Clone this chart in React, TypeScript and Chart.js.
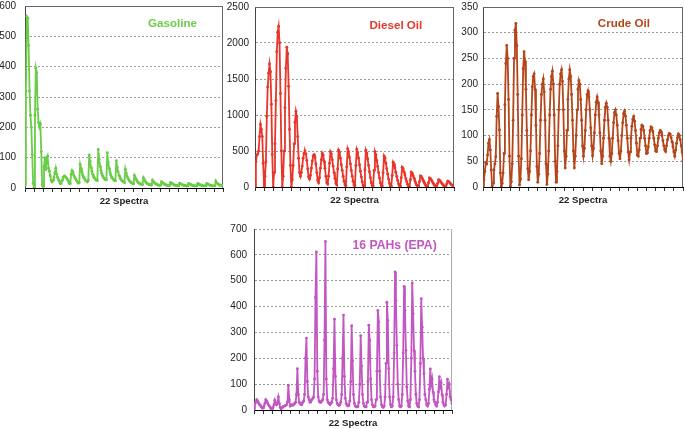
import { useEffect, useRef } from "react";
import { Chart, registerables } from "chart.js";

Chart.register(...registerables);

const SPECTRA_COUNT = 22;
const X_AXIS_TITLE = "22 Spectra";

// 22 spectra x 10 points each
const gasolineValues = [
  10, 320, 565, 560, 470, 320, 240, 200, 110, 15,
  0, 240, 395, 380, 260, 215, 200, 210, 120, 10,
  5, 70, 100, 60, 95, 105, 65, 55, 40, 25,
  20, 25, 35, 50, 65, 45, 35, 28, 22, 15,
  15, 25, 35, 38, 40, 36, 32, 28, 22, 15,
  15, 45, 58, 52, 42, 35, 30, 25, 20, 16,
  18, 78, 65, 52, 42, 35, 30, 25, 22, 20,
  25, 109, 88, 68, 55, 45, 38, 32, 28, 25,
  25, 127, 95, 72, 58, 48, 40, 34, 30, 27,
  27, 116, 85, 65, 52, 43, 36, 31, 27, 24,
  24, 90, 68, 53, 42, 35, 29, 25, 22, 20,
  18, 62, 48, 38, 31, 26, 22, 19, 17, 15,
  14, 41, 34, 28, 23, 19, 16, 14, 13, 12,
  11, 34, 27, 22, 18, 15, 13, 12, 11, 10,
  10, 26, 21, 18, 15, 13, 11, 10, 9, 9,
  9, 21, 18, 15, 13, 11, 10, 9, 8, 8,
  8, 18, 16, 14, 12, 10, 9, 8, 8, 7,
  7, 16, 14, 12, 11, 9, 8, 8, 7, 7,
  7, 15, 13, 12, 10, 9, 8, 7, 7, 7,
  7, 15, 13, 11, 10, 9, 8, 7, 7, 7,
  7, 15, 13, 11, 10, 9, 8, 7, 7, 7,
  7, 23, 17, 14, 12, 10, 9, 9, 8, 8,
];

const dieselValues = [
  0, 350, 440, 460, 500, 700, 870, 800, 700, 330,
  0, 150, 350, 980, 1390, 1580, 1710, 1600, 1150, 450,
  0, 200, 600, 1200, 1880, 2150, 2230, 2000, 1300, 500,
  0, 150, 500, 1100, 1650, 1940, 1850, 1400, 800, 300,
  0, 100, 300, 600, 900, 1050, 980, 700, 400, 200,
  150, 200, 290, 400, 470, 500, 460, 370, 250, 140,
  110, 160, 260, 360, 430, 450, 410, 320, 200, 90,
  60, 130, 260, 380, 470, 440, 360, 260, 150, 60,
  40, 150, 330, 490, 460, 380, 290, 200, 120, 50,
  30, 250, 510, 480, 400, 310, 230, 150, 80, 30,
  20, 280, 530, 490, 410, 320, 230, 150, 80, 25,
  20, 300, 520, 480, 400, 310, 220, 140, 70, 20,
  15, 240, 510, 470, 390, 300, 210, 130, 60, 20,
  15, 230, 490, 450, 370, 285, 200, 125, 55, 18,
  14, 200, 430, 400, 330, 255, 180, 110, 50, 15,
  12, 160, 345, 320, 265, 205, 145, 90, 42, 12,
  10, 130, 275, 255, 210, 165, 115, 72, 34, 10,
  9, 100, 205, 190, 158, 124, 88, 55, 26, 9,
  8, 75, 155, 145, 120, 94, 66, 42, 20, 8,
  7, 60, 125, 116, 97, 76, 54, 34, 16, 7,
  6, 48, 100, 93, 78, 61, 43, 27, 13, 6,
  5, 40, 82, 76, 64, 50, 36, 23, 11, 5,
];

const crudeValues = [
  0, 14, 30, 47, 45, 62, 85, 92, 72, 33,
  1, 7, 33, 45, 59, 137, 182, 156, 111, 27,
  1, 7, 27, 65, 160, 240, 275, 250, 170, 60,
  1, 10, 45, 130, 250, 305, 318, 275, 180, 60,
  4, 15, 55, 140, 230, 263, 245, 190, 110, 35,
  14, 30, 70, 140, 195, 215, 220, 190, 120, 40,
  9, 25, 65, 130, 180, 200, 210, 185, 130, 45,
  5, 25, 70, 140, 190, 215, 225, 200, 140, 50,
  9, 30, 80, 150, 200, 220, 228, 205, 150, 70,
  37, 60, 110, 170, 210, 228, 215, 180, 130, 70,
  37, 60, 100, 150, 190, 207, 200, 170, 130, 80,
  60, 75, 110, 150, 180, 187, 175, 150, 115, 80,
  61, 75, 105, 140, 165, 175, 165, 140, 105, 70,
  45, 60, 95, 130, 155, 163, 155, 130, 95, 60,
  50, 65, 95, 125, 145, 150, 140, 120, 90, 65,
  55, 70, 100, 125, 143, 148, 138, 120, 95, 68,
  53, 68, 95, 118, 132, 137, 128, 110, 85, 62,
  60, 72, 95, 112, 120, 118, 110, 95, 80, 65,
  66, 78, 95, 110, 117, 115, 108, 95, 82, 70,
  69, 80, 95, 105, 110, 108, 100, 90, 80, 72,
  69, 80, 92, 100, 104, 102, 96, 88, 78, 68,
  60, 72, 85, 96, 103, 100, 92, 80, 68, 52,
];

const pahValues = [
  5, 25, 30, 40, 35, 28, 22, 18, 12, 8,
  8, 15, 25, 40, 35, 28, 20, 15, 10, 5,
  5, 10, 20, 38, 25, 20, 30, 50, 25, 10,
  5, 10, 12, 15, 15, 18, 20, 30, 96, 40,
  15, 18, 20, 18, 22, 25, 30, 60, 160, 60,
  30, 25, 20, 25, 30, 35, 60, 200, 278, 110,
  50, 40, 30, 35, 40, 45, 50, 120, 435, 611,
  150, 50, 35, 30, 30, 35, 40, 60, 270, 652,
  120, 40, 30, 25, 22, 25, 30, 45, 160, 351,
  130, 40, 25, 20, 18, 20, 30, 60, 200, 367,
  130, 45, 25, 18, 15, 20, 35, 110, 326, 190,
  60, 25, 15, 12, 12, 15, 30, 100, 287, 170,
  60, 25, 15, 12, 12, 30, 110, 328, 269, 120,
  40, 20, 12, 12, 15, 40, 150, 385, 340, 150,
  50, 20, 12, 10, 15, 50, 180, 417, 346, 160,
  50, 20, 12, 15, 50, 220, 534, 423, 250, 100,
  40, 15, 12, 15, 60, 220, 478, 385, 230, 90,
  35, 15, 12, 40, 200, 491, 372, 230, 150, 60,
  25, 15, 12, 40, 180, 430, 320, 200, 140, 60,
  40, 20, 15, 25, 80, 159, 100, 120, 70, 40,
  30, 20, 15, 30, 70, 129, 90, 105, 60, 30,
  20, 15, 20, 60, 119, 90, 100, 50, 40, 25,
];

const gasolineTicks = [0, 100, 200, 300, 400, 500, 600];
const dieselTicks = [0, 500, 1000, 1500, 2000, 2500];
const crudeTicks = [0, 50, 100, 150, 200, 250, 300, 350];
const pahTicks = [0, 100, 200, 300, 400, 500, 600, 700];

const FONT = '"Liberation Sans", Arial, Helvetica, sans-serif';

type PanelSpec = {
  values: number[];
  yTicks: number[];
  color: string;
  label: string;
  left: number;
  top: number;
  width: number;
  height: number;
  yAxisWidth: number;
  padTop: number;
  labelPad: number;
  titleRight: number;
  titleBaseline: number;
  titleSize: number;
  topFrame: boolean;
  frameColor: string;
};

const panels: PanelSpec[] = [
  {
    values: gasolineValues, yTicks: gasolineTicks, color: "#6acd48", label: "Gasoline",
    left: 0, top: 0, width: 225, height: 207, yAxisWidth: 25, padTop: 6, labelPad: 9,
    titleRight: 26, titleBaseline: 21.3, titleSize: 11.6, topFrame: true, frameColor: "#666",
  },
  {
    values: dieselValues, yTicks: dieselTicks, color: "#e8362a", label: "Diesel Oil",
    left: 226, top: 0, width: 230, height: 206, yAxisWidth: 29, padTop: 7, labelPad: 6,
    titleRight: 31.7, titleBaseline: 21.7, titleSize: 11.6, topFrame: true, frameColor: "#666",
  },
  {
    values: crudeValues, yTicks: crudeTicks, color: "#b4461b", label: "Crude Oil",
    left: 456, top: 0, width: 229, height: 206, yAxisWidth: 27, padTop: 7, labelPad: 5,
    titleRight: 33, titleBaseline: 19.7, titleSize: 11.6, topFrame: true, frameColor: "#666",
  },
  {
    values: pahValues, yTicks: pahTicks, color: "#c256c2", label: "16 PAHs (EPA)",
    left: 220, top: 220, width: 234, height: 209, yAxisWidth: 34, padTop: 9, labelPad: 7,
    titleRight: 15.3, titleBaseline: 20.3, titleSize: 12.2, topFrame: false, frameColor: "#aaa",
  },
];

const panelDecor = {
  id: "panelDecor",
  beforeDatasetsDraw(chart: any, _args: any, opts: any) {
    const { ctx, chartArea } = chart;
    const { left, top, right, bottom } = chartArea;
    ctx.save();
    ctx.strokeStyle = opts.frameColor;
    ctx.lineWidth = 1;
    ctx.beginPath();
    if (opts.topFrame) {
      ctx.moveTo(left, Math.round(top) + 0.5);
      ctx.lineTo(right, Math.round(top) + 0.5);
    }
    ctx.moveTo(Math.round(right) - 0.5, top);
    ctx.lineTo(Math.round(right) - 0.5, bottom);
    ctx.stroke();
    ctx.restore();
  },
  afterDatasetsDraw(chart: any, _args: any, opts: any) {
    const { ctx, chartArea } = chart;
    ctx.save();
    ctx.font = `bold ${opts.size}px ${FONT}`;
    ctx.fillStyle = opts.color;
    ctx.textAlign = "right";
    ctx.textBaseline = "alphabetic";
    ctx.fillText(opts.text, chartArea.right - opts.right, chartArea.top + opts.baseline);
    ctx.restore();
  },
};

function SpectraChart({ spec }: { spec: PanelSpec }) {
  const ref = useRef<HTMLCanvasElement>(null);
  useEffect(() => {
    const canvas = ref.current;
    if (!canvas) return;
    const n = spec.values.length;
    const points = spec.values.map((y, i) => ({ x: (i * SPECTRA_COUNT) / (n - 1), y }));
    const yMin = spec.yTicks[0];
    const yMax = spec.yTicks[spec.yTicks.length - 1];
    const step = spec.yTicks[1] - spec.yTicks[0];
    const chart = new Chart(canvas, {
      type: "line",
      data: {
        datasets: [
          {
            data: points,
            borderColor: spec.color,
            backgroundColor: spec.color,
            pointBackgroundColor: spec.color,
            pointBorderWidth: 0,
            pointRadius: 1.45,
            pointHoverRadius: 0,
            borderWidth: 1.8,
            tension: 0,
            fill: false,
          },
        ],
      },
      options: {
        animation: false,
        responsive: false,
        maintainAspectRatio: false,
        devicePixelRatio: 1,
        events: [],
        layout: { padding: { top: spec.padTop, right: 2, bottom: 0, left: 0 } },
        plugins: {
          legend: { display: false },
          tooltip: { enabled: false },
          panelDecor: {
            frameColor: spec.frameColor,
            topFrame: spec.topFrame,
            color: spec.color,
            text: spec.label,
            size: spec.titleSize,
            right: spec.titleRight,
            baseline: spec.titleBaseline,
          },
        } as any,
        scales: {
          x: {
            type: "linear",
            min: 0,
            max: SPECTRA_COUNT,
            ticks: { display: false, stepSize: 1, maxTicksLimit: 100, autoSkip: false },
            grid: { drawOnChartArea: false, drawTicks: true, tickLength: 4, color: "#333", lineWidth: 1 },
            border: { color: "#000", width: 1 },
            title: {
              display: true,
              text: X_AXIS_TITLE,
              color: "#222",
              font: { family: FONT, size: 9.6, weight: "bold" },
              padding: { top: 0, bottom: 0 },
            },
            afterFit: (s: any) => {
              s.height = 19;
              s.paddingLeft = 0;
              s.paddingRight = 0;
            },
          },
          y: {
            type: "linear",
            min: yMin,
            max: yMax,
            ticks: {
              stepSize: step,
              maxTicksLimit: 100,
              padding: spec.labelPad,
              color: "#222",
              font: { family: FONT, size: 10 },
              callback: (v: any) => String(v),
            },
            grid: {
              drawTicks: false,
              lineWidth: 1,
              color: (ctx: any) => {
                const v = ctx.tick ? ctx.tick.value : null;
                if (v === yMin) return "rgba(0,0,0,0)";
                if (v === yMax && spec.topFrame) return "rgba(0,0,0,0)";
                return "#999999";
              },
            },
            border: { color: "#444", width: 1, dash: [2, 2] },
            afterFit: (s: any) => {
              s.width = spec.yAxisWidth;
              s.paddingTop = 0;
              s.paddingBottom = 0;
            },
          },
        },
      },
      plugins: [panelDecor as any],
    } as any);
    return () => chart.destroy();
  }, [spec]);
  return (
    <canvas
      ref={ref}
      width={spec.width}
      height={spec.height}
      style={{ position: "absolute", left: spec.left, top: spec.top, width: spec.width, height: spec.height }}
    />
  );
}

export default function App() {
  return (
    <div style={{ position: "fixed", left: 0, top: 0, width: 685, height: 429, background: "#fff", overflow: "hidden" }}>
      {panels.map((p) => (
        <SpectraChart key={p.label} spec={p} />
      ))}
    </div>
  );
}
